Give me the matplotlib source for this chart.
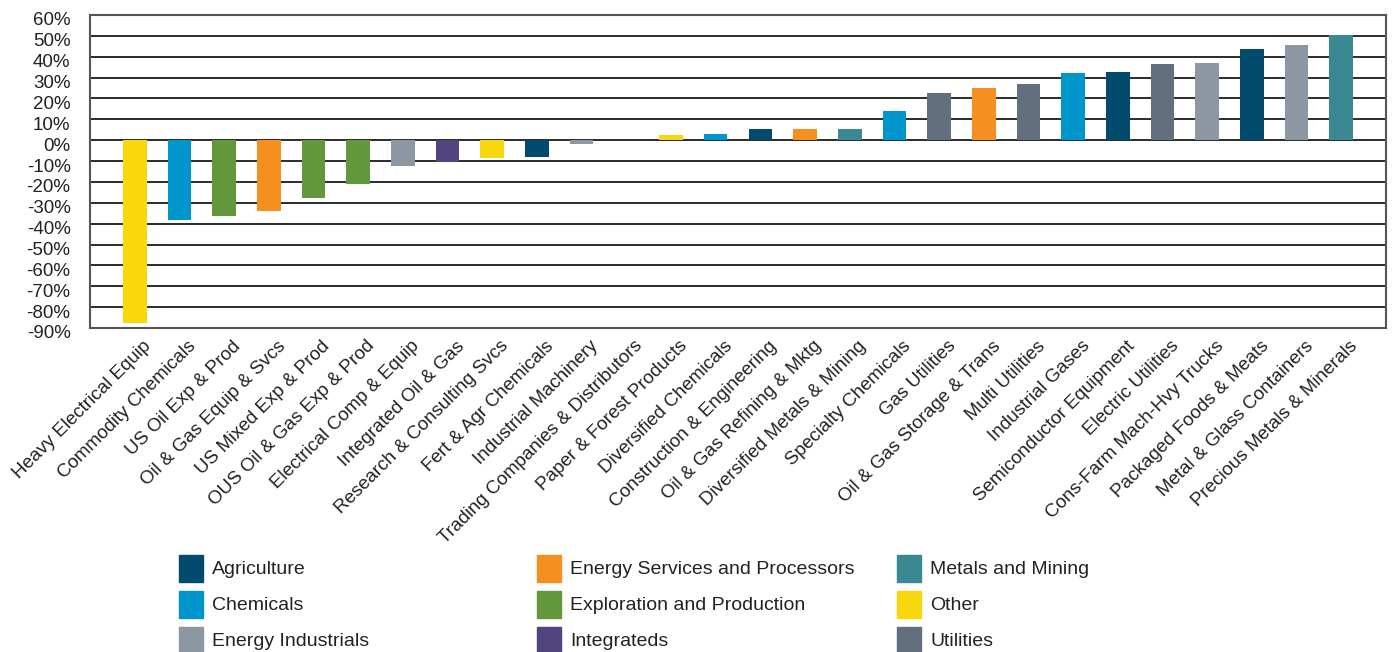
import matplotlib
matplotlib.use('Agg')
import matplotlib.pyplot as plt
from matplotlib.patches import Rectangle
import matplotlib.transforms as mtrans

plt.rcParams['font.family'] = ['Liberation Sans', 'DejaVu Sans']

# industries, sorted by return
industries = ['Heavy Electrical Equip', 'Commodity Chemicals', 'US Oil Exp & Prod',
              'Oil & Gas Equip & Svcs', 'US Mixed Exp & Prod', 'OUS Oil & Gas Exp & Prod',
              'Electrical Comp & Equip', 'Integrated Oil & Gas', 'Research & Consulting Svcs',
              'Fert & Agr Chemicals', 'Industrial Machinery', 'Trading Companies & Distributors',
              'Paper & Forest Products', 'Diversified Chemicals', 'Construction & Engineering',
              'Oil & Gas Refining & Mktg', 'Diversified Metals & Mining', 'Specialty Chemicals',
              'Gas Utilities', 'Oil & Gas Storage & Trans', 'Multi Utilities', 'Industrial Gases',
              'Semiconductor Equipment', 'Electric Utilities', 'Cons-Farm Mach-Hvy Trucks',
              'Packaged Foods & Meats', 'Metal & Glass Containers', 'Precious Metals & Minerals']
returns = [-87.4, -38.3, -36.4, -33.8, -27.8, -20.9, -12.3, -10.4, -8.5, -8.0, -1.9, 0.0,
           2.4, 3.2, 5.6, 5.6, 5.6, 14.2, 22.8, 25.2, 27.1, 32.4, 32.9, 36.7, 37.2, 43.9,
           45.8, 50.6]
sectors = ['Other', 'Chemicals', 'Exploration and Production', 'Energy Services and Processors',
           'Exploration and Production', 'Exploration and Production', 'Energy Industrials',
           'Integrateds', 'Other', 'Agriculture', 'Energy Industrials', 'Energy Industrials',
           'Other', 'Chemicals', 'Agriculture', 'Energy Services and Processors',
           'Metals and Mining', 'Chemicals', 'Utilities', 'Energy Services and Processors',
           'Utilities', 'Chemicals', 'Agriculture', 'Utilities', 'Energy Industrials',
           'Agriculture', 'Energy Industrials', 'Metals and Mining']

sector_names = ['Agriculture', 'Chemicals', 'Energy Industrials',
                'Energy Services and Processors', 'Exploration and Production', 'Integrateds',
                'Metals and Mining', 'Other', 'Utilities']
sector_colors = ['#034B6D', '#0096CC', '#8D97A2', '#F58F1F', '#63973B', '#52447E',
                 '#3A8891', '#F9D70E', '#646F7D']
color_map = dict(zip(sector_names, sector_colors))

yticks = list(range(-90, 61, 10))

fig = plt.figure(figsize=(13.93, 6.52), dpi=100)
ax = fig.add_axes([90 / 1393, 1 - 328 / 652, 1296 / 1393, 313 / 652])

x = list(range(len(industries)))
ax.bar(x, returns, width=0.53, color=[color_map[s] for s in sectors], zorder=3)

ax.set_ylim(-90, 60)
ax.set_xlim(-1, 28)
ax.set_yticks(yticks)
ax.set_yticklabels([f'{v}%' for v in yticks], fontsize=13.5, color='#222222')
ax.yaxis.grid(True, color='#1a1a1a', linewidth=1.3, zorder=1)
ax.set_axisbelow(True)
ax.tick_params(axis='y', length=0, pad=14)
ax.tick_params(axis='x', length=0, pad=4)

# reference labels sit a few pixels below their gridlines
ydown = mtrans.ScaledTranslation(0, -4 / 100, fig.dpi_scale_trans)
for lbl in ax.get_yticklabels():
    lbl.set_transform(lbl.get_transform() + ydown)

ax.set_xticks(x)
ax.set_xticklabels(industries, rotation=45, ha='right', va='top',
                   rotation_mode='anchor', fontsize=13.5, color='#222222')
offset = mtrans.ScaledTranslation(8 / 100, -4 / 100, fig.dpi_scale_trans)
for lbl in ax.get_xticklabels():
    lbl.set_transform(lbl.get_transform() + offset)

for sp in ax.spines.values():
    sp.set_color('#555555')
    sp.set_linewidth(1.5)

# legend, three columns filled top to bottom
for i, (name, col) in enumerate(zip(sector_names, sector_colors)):
    c, r = i // 3, i % 3
    x0 = [179, 537, 897][c]
    yc = [568, 604.5, 640][r]
    fig.patches.append(Rectangle((x0 / 1393, 1 - (yc + 13.5) / 652), 24 / 1393, 27 / 652,
                                 transform=fig.transFigure, color=col, figure=fig))
    fig.text((x0 + 33) / 1393, 1 - (yc + 1.5) / 652, name, fontsize=14, color='#222222',
             va='center', ha='left')

fig.savefig('out.png', dpi=100)
